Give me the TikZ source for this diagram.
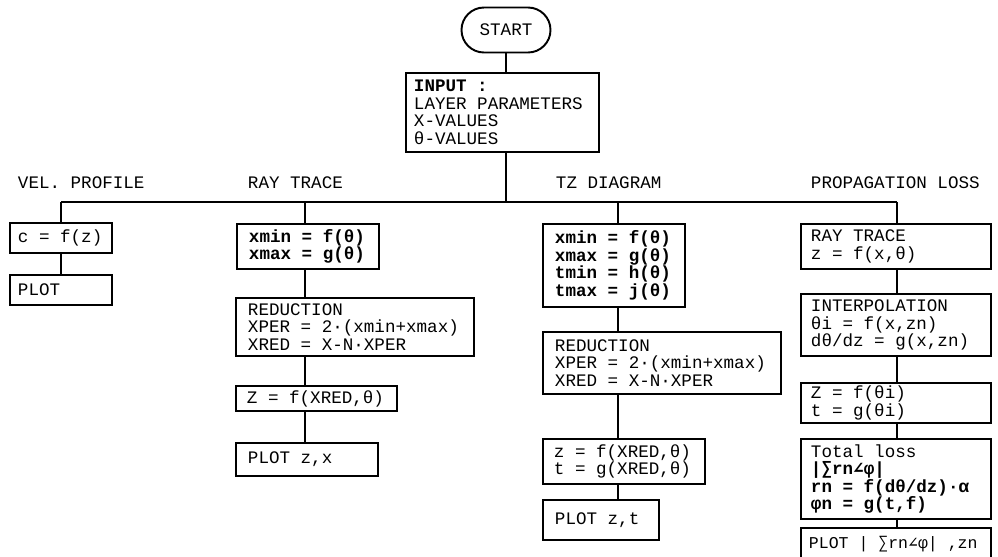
\documentclass[tikz,border=0pt]{standalone}
\usepackage{fontspec}
\setmainfont{Liberation Mono}
\newfontfamily\symf{DejaVu Sans Mono}

\tikzset{
    box/.style={draw, anchor=north west, align=left, inner xsep=2.4mm, inner ysep=0pt,
        execute at begin node={\spaceskip=0pt\xspaceskip=0pt}},
    head/.style={anchor=west, inner sep=0pt}
}

\begin{document}
\begin{tikzpicture}[x=0.2mm, y=-0.2mm, line width=1.1pt, font=\fontsize{10}{10}\selectfont]
    \useasboundingbox (0,0) rectangle (998,556);

    % Start and input
    \node[draw, rounded corners=4.5mm, minimum width=17.8mm, minimum height=9mm] (start) at (506,30) {START};
    \node[box, inner xsep=1.6mm, text width=35.4mm, minimum height=15.8mm] (inp) at (405,72)
        {\textbf{INPUT :}\\LAYER PARAMETERS\\X-VALUES\\θ-VALUES};

    % Branch headings and bus
    \node[head] (hvel) at (17,183) {VEL. PROFILE};
    \node[head] (hray) at (247,183) {RAY TRACE};
    \node[head] (htz) at (555,183) {TZ DIAGRAM};
    \node[head] (hloss) at (810,183) {PROPAGATION LOSS};

    \coordinate (busl) at (61,202);
    \coordinate (c2) at (305,202);
    \coordinate (c3) at (618,202);
    \coordinate (busr) at (897,202);
    \draw (busl) -- (busr);
    \draw (start.south) -- (start.south |- inp.north);
    \draw (start.south |- inp.south) -- (start.south |- busl);

    % Velocity profile
    \node[box, inner xsep=1.6mm, text width=17.2mm, minimum height=6mm] (vel1) at (9,222) {c = f(z)};
    \node[box, inner xsep=1.6mm, text width=17.2mm, minimum height=6mm] (vel2) at (9,274) {PLOT};
    \draw (busl) -- (busl |- vel1.north) (busl |- vel1.south) -- (busl |- vel2.north);

    % Ray trace
    \node[box, text width=23.6mm, minimum height=9mm] (ray1) at (236,223)
        {\textbf{xmin = f(θ)}\\\textbf{xmax = g(θ)}};
    \node[box, text width=42.8mm, minimum height=11.6mm] (ray2) at (235,297)
        {REDUCTION\\XPER = 2·(xmin+xmax)\\XRED = X-N·XPER};
    \node[box, inner xsep=2.2mm, text width=27.8mm, minimum height=5mm] (ray3) at (235,385) {Z = f(XRED,θ)};
    \node[box, text width=23.6mm, minimum height=6.6mm] (ray4) at (235,442) {PLOT z,x};
    \draw (c2) -- (c2 |- ray1.north) (c2 |- ray1.south) -- (c2 |- ray2.north)
          (c2 |- ray2.south) -- (c2 |- ray3.north) (c2 |- ray3.south) -- (c2 |- ray4.north);

    % TZ diagram
    \node[box, text width=23.6mm, minimum height=16.6mm] (tz1) at (542,223)
        {\textbf{xmin = f(θ)}\\\textbf{xmax = g(θ)}\\\textbf{tmin = h(θ)}\\\textbf{tmax = j(θ)}};
    \node[box, text width=42.8mm, minimum height=12.4mm] (tz2) at (542,331)
        {REDUCTION\\XPER = 2·(xmin+xmax)\\XRED = X-N·XPER};
    \node[box, inner xsep=2.2mm, text width=28mm, minimum height=9mm] (tz3) at (542,438)
        {z = f(XRED,θ)\\t = g(XRED,θ)};
    \node[box, text width=18.4mm, minimum height=8mm] (tz4) at (542,499) {PLOT z,t};
    \draw (c3) -- (c3 |- tz1.north) (c3 |- tz1.south) -- (c3 |- tz2.north)
          (c3 |- tz2.south) -- (c3 |- tz3.north) (c3 |- tz3.south) -- (c3 |- tz4.north);

    % Propagation loss
    \node[box, inner xsep=2mm, text width=34mm, minimum height=9mm] (loss1) at (800,223)
        {RAY TRACE\\z = f(x,θ)};
    \node[box, inner xsep=2mm, text width=34mm, minimum height=12.4mm] (loss2) at (800,293)
        {INTERPOLATION\\θi = f(x,zn)\\dθ/dz = g(x,zn)};
    \node[box, inner xsep=2mm, text width=34mm, minimum height=8mm] (loss3) at (800,382)
        {Z = f(θi)\\t = g(θi)};
    \node[box, inner xsep=2mm, text width=34mm, minimum height=16mm] (loss4) at (800,438)
        {Total loss\\\textbf{|{\symf ∑}rn{\symf ∠}φ|}\\\textbf{rn = f(dθ/dz)·α}\\\textbf{φn = g(t,f)}};
    \node[box, inner xsep=1.6mm, text width=34.8mm, minimum height=6.4mm] (loss5) at (800,527)
        {\mbox{\fontsize{9.4}{10}\selectfont PLOT | {\symf ∑}rn{\symf ∠}φ| ,zn}};
    \draw (busr) -- (busr |- loss1.north) (busr |- loss1.south) -- (busr |- loss2.north)
          (busr |- loss2.south) -- (busr |- loss3.north) (busr |- loss3.south) -- (busr |- loss4.north)
          (busr |- loss4.south) -- (busr |- loss5.north);
\end{tikzpicture}
\end{document}
